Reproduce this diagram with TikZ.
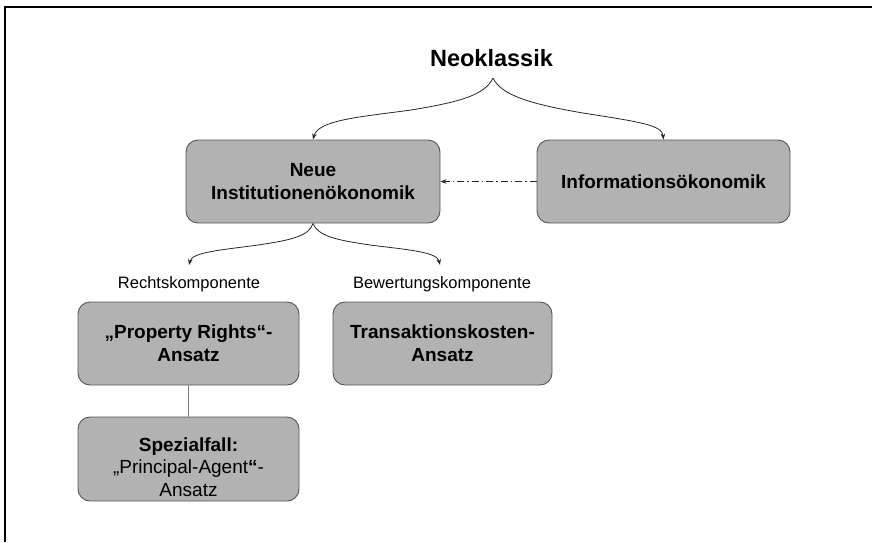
\documentclass[tikz,border=0pt]{standalone}
\usepackage{fontspec}
\setmainfont{Liberation Sans}
\usetikzlibrary{arrows.meta}
\definecolor{boxfill}{RGB}{178,178,178}
\definecolor{boxline}{RGB}{85,85,85}
\definecolor{linec}{RGB}{40,40,40}
\begin{document}
\begin{tikzpicture}[x=1pt,y=-1pt,
  box/.style={draw=boxline, fill=boxfill, rounded corners=12pt, line width=0.9pt,
              align=center, font=\fontsize{19}{23}\selectfont\bfseries, inner sep=0pt},
  boxtext/.style={align=center, font=\fontsize{19}{22.5}\selectfont, inner sep=0pt},
  lbl/.style={font=\fontsize{16.5}{20}\selectfont, inner sep=0pt},
  arr/.style={draw=linec, line width=0.8pt, -{Stealth[length=6pt,width=4.5pt]}},
]
\useasboundingbox (0,0) rectangle (872,542);
\fill[white] (0,0) rectangle (872,542);
\draw[line width=2pt] (5,542) -- (5,7) -- (872,7);

\node[font=\fontsize{23.5}{28}\selectfont\bfseries, inner sep=0pt] (neo) at (491.5,58) {Neoklassik};
\node[box, minimum width=254pt, minimum height=83pt] (nio) at (313,181.5) {Neue\\Institutionenökonomik};
\node[box, minimum width=253pt, minimum height=83pt] (info) at (663.5,181.5) {Informationsökonomik};
\node[lbl] (rk) at (189,284) {Rechtskomponente};
\node[lbl] (bk) at (442,284) {Bewertungskomponente};
\node[box, minimum width=221pt, minimum height=83pt] (pr) at (188.5,343.5) {„Property Rights“-\\Ansatz};
\node[box, minimum width=219pt, minimum height=83pt] (tk) at (442.5,343.5) {Transaktionskosten-\\Ansatz};
\node[box, minimum width=221pt, minimum height=84pt] (sp) at (188.5,459) {};
\node[boxtext] (spt) at (188.5,467) {\textbf{Spezialfall:}\\„Principal-Agent\textbf{“}-\\Ansatz};

\coordinate (neotip) at (493,78);
\coordinate (rkin) at (189,265);
\coordinate (bkin) at (440,265);

\draw[arr] (neotip) .. controls (485,95) and (460,102) .. (411,110)
                    .. controls (360,117) and (318,120) .. (nio.north);
\draw[arr] (neotip) .. controls (501,95) and (530,104) .. (583,113)
                    .. controls (640,122) and (662,125) .. (info.north);
\draw[arr, dash pattern=on 7pt off 3pt on 1.5pt off 3pt] (info.west) -- (nio.east);

\draw[arr] (nio.south) .. controls (309,236) and (292,240) .. (258,245)
                       .. controls (222,250) and (192,252) .. (rkin);
\draw[arr] (nio.south) .. controls (318,236) and (336,240) .. (370,245)
                       .. controls (410,250) and (437,252) .. (bkin);

\draw[draw=gray, line width=0.6pt] (pr.south) -- (sp.north);
\end{tikzpicture}
\end{document}
